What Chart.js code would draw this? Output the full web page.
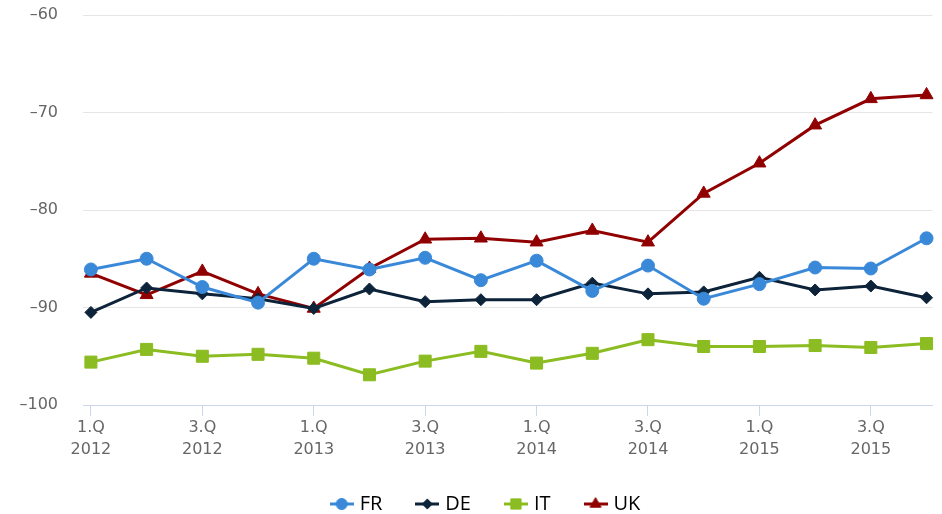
<!DOCTYPE html>
<html>
<head>
<meta charset="utf-8">
<script src="https://cdn.jsdelivr.net/npm/chart.js@4/dist/chart.umd.min.js"></script>
<style>
  html, body { margin: 0; padding: 0; background: #fff; overflow: hidden; }
  canvas { display: block; }
</style>
</head>
<body>
<canvas id="linha" width="942" height="514"></canvas>
<script>
// quarters 2012 - 2015
const trimestres = ['1.Q 2012','2.Q 2012','3.Q 2012','4.Q 2012',
                    '1.Q 2013','2.Q 2013','3.Q 2013','4.Q 2013',
                    '1.Q 2014','2.Q 2014','3.Q 2014','4.Q 2014',
                    '1.Q 2015','2.Q 2015','3.Q 2015','4.Q 2015'];

const FR = [-86.1,-85.0,-87.9,-89.5,-85.0,-86.1,-84.9,-87.2,-85.2,-88.3,-85.7,-89.1,-87.6,-85.9,-86.0,-82.9];
const DE = [-90.5,-88.0,-88.6,-89.1,-90.1,-88.1,-89.4,-89.2,-89.2,-87.5,-88.6,-88.4,-86.9,-88.2,-87.8,-89.0];
const IT = [-95.6,-94.3,-95.0,-94.8,-95.2,-96.9,-95.5,-94.5,-95.7,-94.7,-93.3,-94.0,-94.0,-93.9,-94.1,-93.7];
const UK = [-86.5,-88.7,-86.3,-88.6,-90.1,-86.0,-83.0,-82.9,-83.3,-82.1,-83.3,-78.3,-75.2,-71.3,-68.6,-68.2];

const yTicks = [-100,-90,-80,-70,-60];

const series = [
  {label:'FR', valores:FR, cor:'#3a89d9', estilo:'circle',   raio:6.5},
  {label:'DE', valores:DE, cor:'#0d233a', estilo:'rectRot',  raio:6},
  {label:'IT', valores:IT, cor:'#8bbc21', estilo:'rect',     raio:8.5},
  {label:'UK', valores:UK, cor:'#910000', estilo:'triangle', raio:7.5}
];

// small line + marker image for the legend
function simbolo(s){
  const c = document.createElement('canvas');
  c.width = 24; c.height = 18;
  const g = c.getContext('2d');
  g.strokeStyle = s.cor; g.lineWidth = 3;
  g.beginPath(); g.moveTo(0, 9); g.lineTo(24, 9); g.stroke();
  g.fillStyle = s.cor; g.strokeStyle = s.cor; g.lineWidth = 1;
  Chart.helpers.drawPoint(g, {pointStyle: s.estilo, radius: s.raio * 0.85, borderWidth: 1}, 12, 9);
  return c;
}

// keeps the legend row near the bottom edge, a bit right of centre
const legendaEmbaixo = {
  id: 'legendaEmbaixo',
  afterLayout(chart){
    const l = chart.legend;
    const dy = 457 - l.top;
    l.top += dy; l.bottom += dy;
    l.left += 16; l.right += 16;
  }
};

const datasets = series.map(s => ({
  label: s.label,
  data: s.valores.map((v, i) => ({x: i, y: v})),
  borderColor: s.cor,
  backgroundColor: s.cor,
  borderWidth: 3,
  pointStyle: s.estilo,
  pointRadius: s.raio,
  pointBorderWidth: 1,
  pointBackgroundColor: s.cor,
  pointBorderColor: s.cor,
  tension: 0,
  clip: false
}));

const ctx = document.getElementById('linha').getContext('2d');
new Chart(ctx, {
  type: 'line',
  data: { datasets: datasets },
  plugins: [legendaEmbaixo],
  options: {
    responsive: false,
    animation: false,
    layout: { padding: { left: 0, top: 15, right: 0, bottom: -18 } },
    scales: {
      x: {
        type: 'linear',
        min: -0.142,
        max: 15.107,
        afterBuildTicks: axis => {
          axis.ticks = trimestres.map((t, i) => ({value: i})).filter(t => t.value % 2 === 0);
        },
        afterFit: axis => { axis.height = 60; },
        ticks: {
          autoSkip: false,
          maxRotation: 0,
          padding: 1,
          color: '#666',
          font: { family: 'DejaVu Sans', size: 16, lineHeight: '22px' },
          callback: v => trimestres[v] ? trimestres[v].split(' ') : ''
        },
        grid: { drawOnChartArea: false, tickLength: 11, color: '#ccd6eb', lineWidth: 1 },
        border: { display: true, color: '#ccd6eb', width: 1 }
      },
      y: {
        min: -100,
        max: -60,
        afterBuildTicks: axis => { axis.ticks = yTicks.map(v => ({value: v})); },
        afterFit: axis => { axis.width = 83; },
        ticks: {
          padding: 4,
          color: '#666',
          font: { family: 'DejaVu Sans', size: 16 },
          callback: v => String(v).replace('-', '\u2013')
        },
        grid: { color: '#e6e6e6', lineWidth: 1, tickLength: 21, tickColor: 'rgba(0,0,0,0)' },
        border: { display: false }
      }
    },
    plugins: {
      tooltip: { enabled: false },
      legend: {
        position: 'bottom',
        labels: {
          usePointStyle: true,
          pointStyleWidth: 16,
          boxHeight: 18,
          padding: 37,
          color: '#333',
          font: { family: 'Open Sans', size: 20 },
          generateLabels: chart => series.map((s, i) => ({
            text: s.label,
            fillStyle: s.cor,
            strokeStyle: s.cor,
            lineWidth: 0,
            pointStyle: simbolo(s),
            datasetIndex: i,
            hidden: false
          }))
        }
      }
    }
  }
});
</script>
</body>
</html>
